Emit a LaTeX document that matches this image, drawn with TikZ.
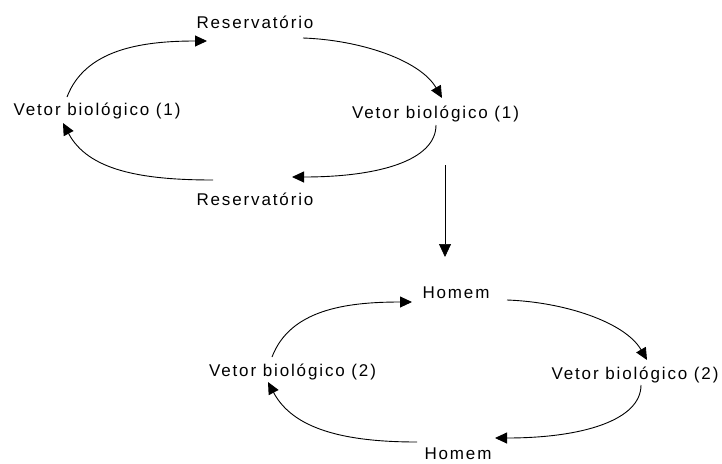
\documentclass[tikz,border=0pt]{standalone}
\usepackage{fontspec}
\setmainfont{Liberation Sans}[LetterSpace=11]
\usetikzlibrary{arrows.meta}
\tikzset{
  lbl/.style={anchor=base,inner sep=0pt,font=\fontsize{17}{20}\selectfont},
  arr/.style={line width=0.9pt,-{Triangle[length=12pt,width=11pt]}}
}
\begin{document}
\begin{tikzpicture}[x=1pt,y=-1pt]
\useasboundingbox (0,0) rectangle (722,463);
% first cycle
\node[lbl] (rt) at (255,28) {Reservatório};
\node[lbl] (vl1) at (97,115) {Vetor biológico (1)};
\node[lbl] (vr1) at (435.5,118) {Vetor biológico (1)};
\node[lbl] (rb) at (255,205) {Reservatório};
\draw[arr] ([shift={(-30,-18)}]vl1.base) .. controls +(18,-47) and +(-67,0) .. ([shift={(-48,13)}]rt.base);
\draw[arr] ([shift={(48,10)}]rt.base) .. controls +(57,2) and +(-22,-38) .. ([shift={(6.5,-20)}]vr1.base);
\draw[arr] ([shift={(0.5,7)}]vr1.base) .. controls +(0,35) and +(88,0) .. ([shift={(37,-28)}]rb.base);
\draw[arr] ([shift={(-42,-25)}]rb.base) .. controls +(-73,0) and +(25,47) .. ([shift={(-34,8)}]vl1.base);
% link
\coordinate (down) at (445,257);
\draw[line width=0.7pt,-{Triangle[length=13pt,width=12pt]}] ([shift={(9.5,47)}]vr1.base) -- (down);
% second cycle
\node[lbl] (ht) at (456,298) {Homem};
\node[lbl] (vl2) at (292.5,376) {Vetor biológico (2)};
\node[lbl] (vr2) at (635,379) {Vetor biológico (2)};
\node[lbl] (hb) at (458,459) {Homem};
\draw[arr] ([shift={(-20.5,-19)}]vl2.base) .. controls +(18,-47) and +(-67,0) .. ([shift={(-44,4)}]ht.base);
\draw[arr] ([shift={(51,2)}]ht.base) .. controls +(57,2) and +(-22,-38) .. ([shift={(12,-19)}]vr2.base);
\draw[arr] ([shift={(6,6)}]vr2.base) .. controls +(0,35) and +(88,0) .. ([shift={(37,-21)}]hb.base);
\draw[arr] ([shift={(-41,-17)}]hb.base) .. controls +(-73,0) and +(25,47) .. ([shift={(-24.5,6)}]vl2.base);
\end{tikzpicture}
\end{document}
